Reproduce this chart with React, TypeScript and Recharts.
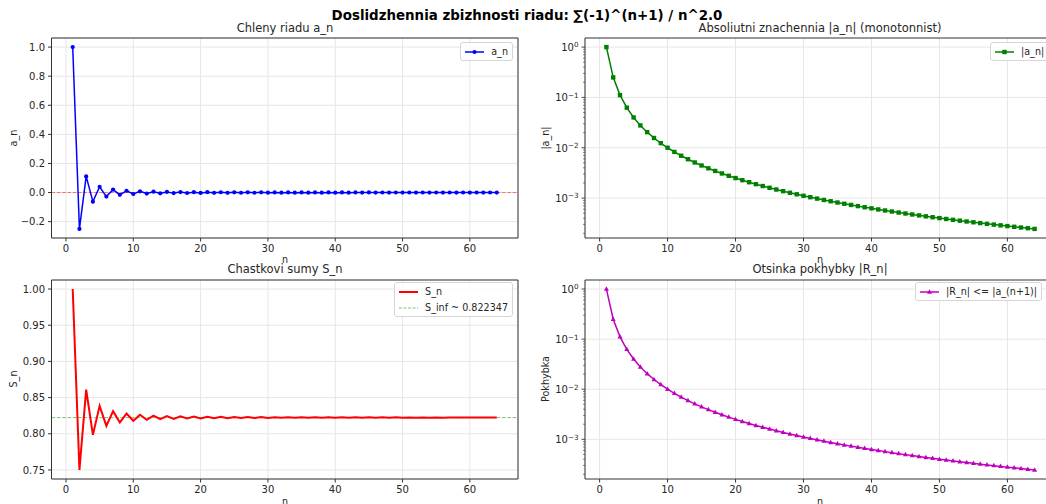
import React from 'react'
import { LineChart, Line, XAxis, YAxis, CartesianGrid, ReferenceLine, Legend } from 'recharts'

const FONT = '"DejaVu Sans", Verdana, sans-serif'
const AXIS = '#333333'
const GRID = '#e6e6e6'
const TEXT = '#262626'
const TICK_SIZE = 3.5
const TICK_MARGIN = 3

// n = 1..64
const nValues = [
  1, 2, 3, 4, 5, 6, 7, 8, 9, 10, 11, 12, 13, 14, 15, 16, 17, 18, 19, 20, 21, 22, 23, 24, 25, 26, 27, 28, 29, 30, 31, 32,
  33, 34, 35, 36, 37, 38, 39, 40, 41, 42, 43, 44, 45, 46, 47, 48, 49, 50, 51, 52, 53, 54, 55, 56, 57, 58, 59, 60, 61, 62,
  63, 64,
]

// a_n
const terms = [
  1, -0.25, 0.11111, -0.0625, 0.04, -0.027778, 0.020408, -0.015625, 0.012346, -0.01, 0.0082645, -0.0069444, 0.0059172,
  -0.005102, 0.0044444, -0.0039063, 0.0034602, -0.0030864, 0.0027701, -0.0025, 0.0022676, -0.0020661, 0.0018904,
  -0.0017361, 0.0016, -0.0014793, 0.0013717, -0.0012755, 0.0011891, -0.0011111, 0.0010406, -0.00097656, 0.00091827,
  -0.00086505, 0.00081633, -0.0007716, 0.00073046, -0.00069252, 0.00065746, -0.000625, 0.00059488, -0.00056689,
  0.00054083, -0.00051653, 0.00049383, -0.00047259, 0.00045269, -0.00043403, 0.00041649, -0.0004, 0.00038447,
  -0.00036982, 0.000356, -0.00034294, 0.00033058, -0.00031888, 0.00030779, -0.00029727, 0.00028727, -0.00027778,
  0.00026874, -0.00026015, 0.00025195, -0.00024414,
]

// |a_n|
const absTerms = [
  1, 0.25, 0.11111, 0.0625, 0.04, 0.027778, 0.020408, 0.015625, 0.012346, 0.01, 0.0082645, 0.0069444, 0.0059172,
  0.005102, 0.0044444, 0.0039063, 0.0034602, 0.0030864, 0.0027701, 0.0025, 0.0022676, 0.0020661, 0.0018904, 0.0017361,
  0.0016, 0.0014793, 0.0013717, 0.0012755, 0.0011891, 0.0011111, 0.0010406, 0.00097656, 0.00091827, 0.00086505,
  0.00081633, 0.0007716, 0.00073046, 0.00069252, 0.00065746, 0.000625, 0.00059488, 0.00056689, 0.00054083, 0.00051653,
  0.00049383, 0.00047259, 0.00045269, 0.00043403, 0.00041649, 0.0004, 0.00038447, 0.00036982, 0.000356, 0.00034294,
  0.00033058, 0.00031888, 0.00030779, 0.00029727, 0.00028727, 0.00027778, 0.00026874, 0.00026015, 0.00025195,
  0.00024414,
]

// S_n
const partialSums = [
  1, 0.75, 0.861111, 0.798611, 0.838611, 0.810833, 0.831241, 0.815616, 0.827962, 0.817962, 0.826227, 0.819282,
  0.825199, 0.820097, 0.824542, 0.820635, 0.824096, 0.821009, 0.823779, 0.821279, 0.823547, 0.82148, 0.823371,
  0.821635, 0.823235, 0.821755, 0.823127, 0.821852, 0.823041, 0.82193, 0.82297, 0.821994, 0.822912, 0.822047, 0.822863,
  0.822092, 0.822822, 0.822129, 0.822787, 0.822162, 0.822757, 0.82219, 0.822731, 0.822214, 0.822708, 0.822235,
  0.822688, 0.822254, 0.82267, 0.82227, 0.822655, 0.822285, 0.822641, 0.822298, 0.822628, 0.82231, 0.822617, 0.82232,
  0.822607, 0.822329, 0.822598, 0.822338, 0.82259, 0.822346,
]

// error estimate |R_n|
const errorBound = [
  1, 0.25, 0.11111, 0.0625, 0.04, 0.027778, 0.020408, 0.015625, 0.012346, 0.01, 0.0082645, 0.0069444, 0.0059172,
  0.005102, 0.0044444, 0.0039063, 0.0034602, 0.0030864, 0.0027701, 0.0025, 0.0022676, 0.0020661, 0.0018904, 0.0017361,
  0.0016, 0.0014793, 0.0013717, 0.0012755, 0.0011891, 0.0011111, 0.0010406, 0.00097656, 0.00091827, 0.00086505,
  0.00081633, 0.0007716, 0.00073046, 0.00069252, 0.00065746, 0.000625, 0.00059488, 0.00056689, 0.00054083, 0.00051653,
  0.00049383, 0.00047259, 0.00045269, 0.00043403, 0.00041649, 0.0004, 0.00038447, 0.00036982, 0.000356, 0.00034294,
  0.00033058, 0.00031888, 0.00030779, 0.00029727, 0.00028727, 0.00027778, 0.00026874, 0.00026015, 0.00025195,
  0.00024414,
]

const S_INF = 0.822347

const xTicks = [0, 10, 20, 30, 40, 50, 60]
const termTicks = [-0.2, 0, 0.2, 0.4, 0.6, 0.8, 1.0]
const sumTicks = [0.75, 0.8, 0.85, 0.9, 0.95, 1.0]
const logMajor = [1, 0.1, 0.01, 0.001]
const logMinor = [
  0.9, 0.8, 0.7, 0.6, 0.5, 0.4, 0.3, 0.2, 0.09, 0.08, 0.07, 0.06, 0.05, 0.04, 0.03, 0.02, 0.009, 0.008, 0.007, 0.006,
  0.005, 0.004, 0.003, 0.002, 0.0009, 0.0008, 0.0007, 0.0006, 0.0005, 0.0004, 0.0003, 0.0002,
]

const X_DOMAIN: [number, number] = [-2.15, 67.15]
const TERM_DOMAIN: [number, number] = [-0.3125, 1.0625]
const SUM_DOMAIN: [number, number] = [0.7375, 1.0125]
const LOG_DOMAIN: [number, number] = [1.6106e-4, 1.5157]

const rows = nValues.map((n, i) => ({
  n,
  a: terms[i],
  abs: absTerms[i],
  s: partialSums[i],
  r: errorBound[i],
}))

const BLUE = '#0000ff'
const GREEN = '#008000'
const RED = '#ff0000'
const MAGENTA = '#bf00bf'

type Shape = 'circle' | 'square' | 'triangle'

function Marker({ shape, cx, cy, color }: { shape: Shape; cx: number; cy: number; color: string }) {
  if (shape === 'square') return <rect x={cx - 2.2} y={cy - 2.2} width={4.4} height={4.4} fill={color} />
  if (shape === 'triangle')
    return <polygon points={`${cx},${cy - 2.8} ${cx - 2.5},${cy + 1.7} ${cx + 2.5},${cy + 1.7}`} fill={color} />
  return <circle cx={cx} cy={cy} r={2.1} fill={color} />
}

const dotOf = (shape: Shape, color: string) => (p: any) =>
  <Marker key={p.index} shape={shape} cx={p.cx} cy={p.cy} color={color} />

type Item = { label: string; color: string; width?: number; dash?: string; opacity?: number; marker?: Shape }

function LegendBox({ items }: { items: Item[] }) {
  return (
    <div
      style={{
        background: 'rgba(255,255,255,0.85)',
        border: '1px solid #d6d6d6',
        borderRadius: 3,
        padding: '2px 4px',
        fontFamily: FONT,
        fontSize: 9.6,
        color: TEXT,
        whiteSpace: 'nowrap',
        display: 'flex',
        flexDirection: 'column',
        gap: 3,
      }}
    >
      {items.map((it) => (
        <div key={it.label} style={{ display: 'flex', alignItems: 'center', height: 13 }}>
          <svg width={19} height={8} style={{ flex: 'none' }}>
            <line
              x1={0}
              y1={4}
              x2={19}
              y2={4}
              stroke={it.color}
              strokeWidth={it.width ?? 1.5}
              strokeDasharray={it.dash}
              strokeOpacity={it.opacity ?? 1}
            />
            {it.marker && <Marker shape={it.marker} cx={9.5} cy={4} color={it.color} />}
          </svg>
          <span style={{ marginLeft: 7 }}>{it.label}</span>
        </div>
      ))}
    </div>
  )
}

function LogTick(props: any) {
  const { x, y, payload } = props
  const v = payload.value as number
  const lg = Math.log10(v)
  const exp = Math.round(lg)
  const major = Math.abs(lg - exp) < 1e-6
  const ax = x + TICK_MARGIN + TICK_SIZE
  return (
    <g>
      <line x1={ax} x2={ax - (major ? 3.5 : 2)} y1={y} y2={y} stroke={AXIS} strokeWidth={major ? 0.9 : 0.6} />
      {major && (
        <text x={x} y={y} dy="0.4em" textAnchor="end" fontSize={10} fill={TEXT} fontFamily={FONT}>
          10
          <tspan dy="-0.5em" fontSize={7.2}>
            {exp === 0 ? '0' : '\u2212' + String(-exp)}
          </tspan>
        </text>
      )}
    </g>
  )
}

const fmt = (digits: number) => (v: number) => {
  const s = v.toFixed(digits)
  return s.startsWith('-') ? '\u2212' + s.slice(1) : s
}

const tickStyle = { fill: TEXT, fontSize: 10, fontFamily: FONT }

function Text({ x, y, size, bold, rotate, children }: any) {
  return (
    <div
      style={{
        position: 'absolute',
        left: x,
        top: y,
        transform: `translate(-50%, -50%)${rotate ? ' rotate(-90deg)' : ''}`,
        fontFamily: FONT,
        fontSize: size,
        fontWeight: bold ? 'bold' : 'normal',
        color: bold ? '#000' : TEXT,
        whiteSpace: 'nowrap',
        lineHeight: 1,
      }}
    >
      {children}
    </div>
  )
}

function xAxis(height: number) {
  return (
    <XAxis
      dataKey="n"
      type="number"
      domain={X_DOMAIN}
      ticks={xTicks}
      allowDataOverflow
      tickSize={TICK_SIZE}
      tickMargin={TICK_MARGIN}
      stroke={AXIS}
      tick={tickStyle}
      height={height}
    />
  )
}

export default function App() {
  return (
    <div
      style={{
        position: 'fixed',
        left: 0,
        top: 0,
        width: 1046,
        height: 504,
        overflow: 'hidden',
        background: '#fff',
      }}
    >
      <Text x={527} y={16} size={13.4} bold>
        Doslidzhennia zbizhnosti riadu: ∑(-1)^(n+1) / n^2.0
      </Text>

      {/* top-left: terms */}
      <div style={{ position: 'absolute', left: 0, top: 0 }}>
        <LineChart width={530} height={265} data={rows} margin={{ top: 38, right: 12, bottom: 0, left: 0 }}>
          <CartesianGrid stroke={GRID} />
          {xAxis(27)}
          <YAxis
            type="number"
            domain={TERM_DOMAIN}
            ticks={termTicks}
            allowDataOverflow
            tickFormatter={fmt(1)}
            tickSize={TICK_SIZE}
            tickMargin={TICK_MARGIN}
            stroke={AXIS}
            tick={tickStyle}
            width={51.5}
          />
          <ReferenceLine y={TERM_DOMAIN[1]} stroke={AXIS} ifOverflow="visible" />
          <ReferenceLine x={X_DOMAIN[1]} stroke={AXIS} ifOverflow="visible" />
          <ReferenceLine y={0} stroke={RED} strokeOpacity={0.5} strokeDasharray="3.7 1.6" />
          <Line
            dataKey="a"
            stroke={BLUE}
            strokeWidth={1.5}
            dot={dotOf('circle', BLUE)}
            activeDot={false}
            isAnimationActive={false}
          />
          <Legend
            layout="vertical"
            align="center"
            verticalAlign="middle"
            wrapperStyle={{ top: 42, right: 17 }}
            content={() => <LegendBox items={[{ label: 'a_n', color: BLUE, marker: 'circle' }]} />}
          />
        </LineChart>
      </div>

      {/* top-right: |a_n| */}
      <div style={{ position: 'absolute', left: 530, top: 0 }}>
        <LineChart width={540} height={265} data={rows} margin={{ top: 38, right: 14, bottom: 0, left: 0 }}>
          <CartesianGrid stroke={GRID} horizontal={false} />
          {logMajor.map((v) => (
            <ReferenceLine key={v} y={v} stroke={GRID} />
          ))}
          {xAxis(27)}
          <YAxis
            type="number"
            scale="log"
            domain={LOG_DOMAIN}
            ticks={[...logMajor, ...logMinor]}
            allowDataOverflow
            interval={0}
            tickSize={TICK_SIZE}
            tickMargin={TICK_MARGIN}
            tickLine={false}
            stroke={AXIS}
            tick={LogTick}
            width={55}
          />
          <ReferenceLine y={LOG_DOMAIN[1]} stroke={AXIS} ifOverflow="visible" />
          <Line
            dataKey="abs"
            stroke={GREEN}
            strokeWidth={1.5}
            dot={dotOf('square', GREEN)}
            activeDot={false}
            isAnimationActive={false}
          />
          <Legend
            layout="vertical"
            align="center"
            verticalAlign="middle"
            wrapperStyle={{ top: 42, left: 460 }}
            content={() => <LegendBox items={[{ label: '|a_n|', color: GREEN, marker: 'square' }]} />}
          />
        </LineChart>
      </div>

      {/* bottom-left: partial sums */}
      <div style={{ position: 'absolute', left: 0, top: 250 }}>
        <LineChart width={530} height={254} data={rows} margin={{ top: 30, right: 12, bottom: 0, left: 0 }}>
          <CartesianGrid stroke={GRID} />
          {xAxis(25)}
          <YAxis
            type="number"
            domain={SUM_DOMAIN}
            ticks={sumTicks}
            allowDataOverflow
            tickFormatter={fmt(2)}
            tickSize={TICK_SIZE}
            tickMargin={TICK_MARGIN}
            stroke={AXIS}
            tick={tickStyle}
            width={51.5}
          />
          <ReferenceLine y={SUM_DOMAIN[1]} stroke={AXIS} ifOverflow="visible" />
          <ReferenceLine x={X_DOMAIN[1]} stroke={AXIS} ifOverflow="visible" />
          <ReferenceLine y={S_INF} stroke={GREEN} strokeOpacity={0.5} strokeDasharray="3.7 1.6" />
          <Line dataKey="s" stroke={RED} strokeWidth={2} dot={false} activeDot={false} isAnimationActive={false} />
          <Legend
            layout="vertical"
            align="center"
            verticalAlign="middle"
            wrapperStyle={{ top: 32, right: 17 }}
            content={() => (
              <LegendBox
                items={[
                  { label: 'S_n', color: RED, width: 2 },
                  { label: 'S_inf ~ 0.822347', color: GREEN, width: 1, dash: '3 1.5', opacity: 0.5 },
                ]}
              />
            )}
          />
        </LineChart>
      </div>

      {/* bottom-right: error estimate */}
      <div style={{ position: 'absolute', left: 530, top: 250 }}>
        <LineChart width={540} height={254} data={rows} margin={{ top: 30, right: 14, bottom: 0, left: 0 }}>
          <CartesianGrid stroke={GRID} horizontal={false} />
          {logMajor.map((v) => (
            <ReferenceLine key={v} y={v} stroke={GRID} />
          ))}
          {xAxis(25)}
          <YAxis
            type="number"
            scale="log"
            domain={LOG_DOMAIN}
            ticks={[...logMajor, ...logMinor]}
            allowDataOverflow
            interval={0}
            tickSize={TICK_SIZE}
            tickMargin={TICK_MARGIN}
            tickLine={false}
            stroke={AXIS}
            tick={LogTick}
            width={55}
          />
          <ReferenceLine y={LOG_DOMAIN[1]} stroke={AXIS} ifOverflow="visible" />
          <Line
            dataKey="r"
            stroke={MAGENTA}
            strokeWidth={1.5}
            dot={dotOf('triangle', MAGENTA)}
            activeDot={false}
            isAnimationActive={false}
          />
          <Legend
            layout="vertical"
            align="center"
            verticalAlign="middle"
            wrapperStyle={{ top: 32, left: 385 }}
            content={() => <LegendBox items={[{ label: '|R_n| <= |a_(n+1)|', color: MAGENTA, marker: 'triangle' }]} />}
          />
        </LineChart>
      </div>

      {/* subplot titles and axis labels */}
      <Text x={285} y={28.5} size={11.5}>Chleny riadu a_n</Text>
      <Text x={820} y={28.5} size={11.5}>Absoliutni znachennia |a_n| (monotonnist)</Text>
      <Text x={285} y={270} size={11.5}>Chastkovi sumy S_n</Text>
      <Text x={820} y={270} size={11.5}>Otsinka pokhybky |R_n|</Text>

      <Text x={285} y={260} size={9.6}>n</Text>
      <Text x={820} y={260} size={9.6}>n</Text>
      <Text x={285} y={502} size={9.6}>n</Text>
      <Text x={820} y={502} size={9.6}>n</Text>

      <Text x={14} y={138} size={9.6} rotate>a_n</Text>
      <Text x={546} y={138} size={9.6} rotate>|a_n|</Text>
      <Text x={14} y={379} size={9.6} rotate>S_n</Text>
      <Text x={546} y={379} size={9.6} rotate>Pokhybka</Text>
    </div>
  )
}
